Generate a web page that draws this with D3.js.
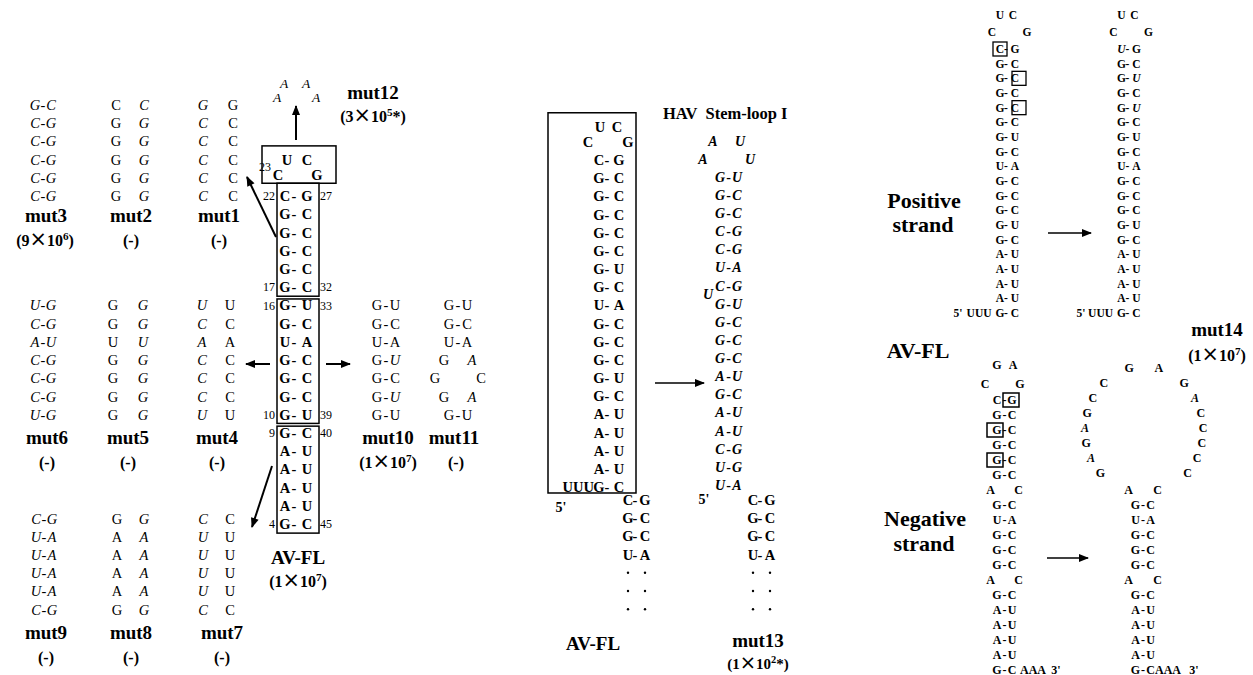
<!DOCTYPE html>
<html>
<head>
<meta charset="utf-8">
<script src="https://cdn.jsdelivr.net/npm/d3@7"></script>
<style>
  body { margin: 0; background: #fff; }
  text { font-family: "Liberation Serif", "Times New Roman", serif; fill: #000; }
</style>
</head>
<body>
<div id="chart-area"></div>
<script>
// Sequences: one string per base pair, "L-R" paired, "L R" unpaired, "L  R" wide.
// Lowercase letter = mutated base (drawn in italics).
var avfl    = ["C-G","G-C","G-C","G-C","G-C","G-C","G-U","G-C","U-A","G-C","G-C","G-C","G-U","G-C","A-U","A-U","A-U","A-U","G-C"];
var avflNum = [[0,"22","27"],[5,"17","32"],[6,"16","33"],[12,"10","39"],[13,"9","40"],[18,"4","45"]];
var loopAV  = ["U C","C  G"];
var loop12  = ["a a","a  a"];

var mut3  = ["g-c","c-g","c-g","c-g","c-g","c-g"];
var mut2  = ["C c","G g","G g","G g","G g","G g"];
var mut1  = ["g G","c C","c C","c C","c C","c C"];
var mut6  = ["u-g","c-g","a-u","c-g","c-g","c-g","u-g"];
var mut5  = ["G g","G g","U u","G g","G g","G g","G g"];
var mut4  = ["u U","c C","a A","c C","c C","c C","u U"];
var mut10 = ["G-U","G-C","U-A","G-u","G-C","G-u","G-U"];
var mut11 = ["G-U","G-C","U-A","G a","G  C","G a","G-U"];
var mut9  = ["c-g","u-a","u-a","u-a","u-a","c-g"];
var mut8  = ["G g","A a","A a","A a","A a","G g"];
var mut7  = ["c C","u U","u U","u U","u U","c C"];

var tail   = ["C-G","G-C","G-C","U-A"];
var mut13  = ["g-u","g-c","g-c","c-g","c-g","u-a","c-g","g-u","g-c","g-c","g-c","a-u","g-c","a-u","a-u","c-g","u-g","u-a"];
var loop13 = ["a u","a  u"];

var posMut14 = ["u-G","G-C","G-u","G-C","G-u","G-C","G-U","G-C","U-A","G-C","G-C","G-C","G-U","G-C","A-U","A-U","A-U","A-U","G-C"];
var posBoxes = [[0,"L"],[2,"R"],[4,"R"]];
var negAV    = ["C-G","G-C","G-C","G-C","G-C","G-C","A C","G-C","U-A","G-C","G-C","G-C","A C","G-C","A-U","A-U","A-U","A-U","G-C"];
var negBoxes = [[0,"R"],[2,"L"],[4,"L"]];
var loopNeg  = ["G A","C  G"];
var ringLeft  = ["G","C","C","G","a","G","a","G"];
var ringRight = ["A","G","a","C","C","C","C","C"];

var svg = d3.select("#chart-area").append("svg")
    .attr("width", 1253).attr("height", 675);

svg.append("defs").append("marker")
    .attr("id", "head").attr("viewBox", "0 0 10 10")
    .attr("refX", 9).attr("refY", 5)
    .attr("markerWidth", 12).attr("markerHeight", 10)
    .attr("markerUnits", "userSpaceOnUse").attr("orient", "auto")
    .append("path").attr("d", "M0,1 L10,5 L0,9 Z");

// single letter
function base(g, ch, x, y, size, bold) {
    var it = /[a-z]/.test(ch);
    g.append("text")
        .attr("x", x).attr("y", y).attr("dy", "0.35em")
        .attr("text-anchor", "middle")
        .attr("font-size", size)
        .attr("font-weight", bold ? "bold" : "normal")
        .attr("font-style", it ? "italic" : "normal")
        .text(ch.toUpperCase());
}

// column of pairs
function stem(g, pairs, o) {
    pairs.forEach(function(p, i) {
        var y = o.y(o.start + i);
        var l = p[0], r = p[p.length - 1], mid = p.slice(1, -1);
        var h = mid === "-" ? o.dx : (mid === " " ? o.gap : o.wide);
        base(g, l, o.cx - h, y, o.size, o.bold);
        base(g, r, o.cx + h, y, o.size, o.bold);
        if (mid === "-") base(g, "-", o.cx + (o.dash || 0), y, o.size, o.bold);
    });
}

function label(g, txt, x, y, size) {
    g.append("text").attr("x", x).attr("y", y).attr("dy", "0.35em")
        .attr("text-anchor", "middle").attr("font-size", size)
        .attr("font-weight", "bold").text(txt);
}

// "(1×10^7)" style titre
function titre(g, mant, exp, tail, x, y, size) {
    var t = g.append("text").attr("x", x).attr("y", y).attr("dy", "0.35em")
        .attr("text-anchor", "middle").attr("font-size", size).attr("font-weight", "bold");
    t.append("tspan").text("(" + mant);
    t.append("tspan").attr("font-family", "DejaVu Sans").attr("font-weight", "normal")
        .attr("font-size", size * 1.3).text("×");
    t.append("tspan").text("10");
    t.append("tspan").attr("dy", -6).attr("font-size", size * 0.7).text(exp);
    t.append("tspan").attr("dy", 6).text(tail + ")");
}

function arrow(g, x1, y1, x2, y2, w) {
    g.append("line").attr("x1", x1).attr("y1", y1).attr("x2", x2).attr("y2", y2)
        .attr("stroke", "#000").attr("stroke-width", w || 2)
        .attr("marker-end", "url(#head)");
}

function box(g, x, y, w, h, sw) {
    g.append("rect").attr("x", x).attr("y", y).attr("width", w).attr("height", h)
        .attr("fill", "none").attr("stroke", "#000").attr("stroke-width", sw || 1.5);
}

// ================= LEFT PANEL =================
var left = svg.append("g");
var rowY = d3.scaleLinear().domain([0, 18]).range([196, 524]);
var reg = {size: 14.5, bold: false, dx: 8, gap: 14, wide: 22, y: rowY};

stem(left, mut3, Object.assign({}, reg, {cx: 43, start: -5}));
stem(left, mut2, Object.assign({}, reg, {cx: 130, start: -5}));
stem(left, mut1, Object.assign({}, reg, {cx: 218, start: -5, gap: 15}));
stem(left, mut6, Object.assign({}, reg, {cx: 43, start: 6}));
stem(left, mut5, Object.assign({}, reg, {cx: 128, start: 6, gap: 15}));
stem(left, mut4, Object.assign({}, reg, {cx: 216, start: 6}));
stem(left, mut10, Object.assign({}, reg, {cx: 386, start: 6, dx: 9}));
stem(left, mut11, Object.assign({}, reg, {cx: 458, start: 6, dx: 9, gap: 14, wide: 23}));
stem(left, mut9, Object.assign({}, reg, {cx: 44, start: 17.7}));
stem(left, mut8, Object.assign({}, reg, {cx: 130.5, start: 17.7, gap: 13.5}));
stem(left, mut7, Object.assign({}, reg, {cx: 216.5, start: 17.7, gap: 13.5}));

// AV-FL stem
stem(left, avfl, {cx: 296, dx: 11, dash: -2, y: rowY, start: 0, size: 14.5, bold: true});
avflNum.forEach(function(n) {
    var y = rowY(n[0]);
    left.append("text").attr("x", 275).attr("y", y).attr("dy", "0.35em")
        .attr("text-anchor", "end").attr("font-size", 12).text(n[1]);
    left.append("text").attr("x", 320).attr("y", y).attr("dy", "0.35em")
        .attr("text-anchor", "start").attr("font-size", 12).text(n[2]);
});
// loop
stem(left, [loopAV[0]], {cx: 297, gap: 10, y: rowY, start: -2, size: 14.5, bold: true});
stem(left, [loopAV[1]], {cx: 297.5, wide: 19.5, y: rowY, start: -1.15, size: 14.5, bold: true});
left.append("text").attr("x", 271).attr("y", rowY(-1.6)).attr("dy", "0.35em")
    .attr("text-anchor", "end").attr("font-size", 12).text("23");
box(left, 262, rowY(-2.75), 74, rowY(-0.7) - rowY(-2.75));
box(left, 277, rowY(-0.7), 42, rowY(5.5) - rowY(-0.7));
box(left, 277, rowY(5.65), 42, rowY(12.48) - rowY(5.65));
box(left, 277, rowY(12.63), 42, rowY(18.5) - rowY(12.63));

// mut12 loop
stem(left, [loop12[0]], {cx: 295, gap: 11, y: rowY, start: -6.2, size: 13.5, bold: false});
stem(left, [loop12[1]], {cx: 296.5, wide: 19.5, y: rowY, start: -5.4, size: 13.5, bold: false});

// arrows
arrow(left, 296, 140, 296, 106);
arrow(left, 276, 237, 247, 177);
arrow(left, 270, 364, 246, 364);
arrow(left, 326, 364, 350, 364);
arrow(left, 272, 466, 252, 527);

// labels
label(left, "mut12", 373, 92, 19);
titre(left, "3", "5", "*", 373, 116, 16);
label(left, "mut3", 46, 215, 19);
label(left, "mut2", 131, 215, 19);
label(left, "mut1", 219, 215, 19);
titre(left, "9", "6", "", 45, 240, 16);
label(left, "(-)", 131, 240, 16);
label(left, "(-)", 219, 240, 16);
label(left, "mut6", 47, 437, 19);
label(left, "mut5", 128, 437, 19);
label(left, "mut4", 217, 437, 19);
label(left, "mut10", 388, 437, 19);
label(left, "mut11", 454, 437, 19);
label(left, "(-)", 47, 462, 16);
label(left, "(-)", 128, 462, 16);
label(left, "(-)", 217, 462, 16);
titre(left, "1", "7", "", 388, 462, 16);
label(left, "(-)", 456, 462, 16);
label(left, "mut9", 46, 632, 19);
label(left, "mut8", 131, 632, 19);
label(left, "mut7", 222, 632, 19);
label(left, "(-)", 46, 657, 16);
label(left, "(-)", 131, 657, 16);
label(left, "(-)", 222, 657, 16);
label(left, "AV-FL", 298, 557, 19);
titre(left, "1", "7", "", 298, 581, 16);

// ================= MIDDLE PANEL =================
var mid = svg.append("g");
var rowM = d3.scaleLinear().domain([0, 18]).range([160, 487]);
var bold = {size: 14.5, bold: true, y: rowM};

stem(mid, avfl, Object.assign({}, bold, {cx: 609, dx: 10, dash: -2, start: 0}));
stem(mid, [loopAV[0]], Object.assign({}, bold, {cx: 608.5, gap: 8.5, start: -1.82}));
stem(mid, [loopAV[1]], Object.assign({}, bold, {cx: 608, wide: 20, start: -0.99}));
mid.append("text").attr("x", 594).attr("y", rowM(18)).attr("dy", "0.35em")
    .attr("text-anchor", "end").attr("font-size", 14.5).attr("font-weight", "bold").text("UUU");
box(mid, 548, rowM(-2.6), 88, rowM(18.33) - rowM(-2.6));

var rowT = d3.scaleLinear().domain([0, 1]).range([500, 518.2]);
stem(mid, tail, {cx: 636.5, dx: 8.5, dash: -1.5, y: rowT, start: 0, size: 14.5, bold: true});
stem(mid, tail, {cx: 761.5, dx: 8.5, dash: -1.5, y: rowT, start: 0, size: 14.5, bold: true});
[4, 5, 6].forEach(function(k) {
    [628, 645, 753, 770].forEach(function(x) {
        mid.append("circle").attr("cx", x).attr("cy", rowT(k)).attr("r", 1.2).attr("fill", "#000");
    });
});
label(mid, "5'", 561, 507, 14);
label(mid, "5'", 704, 499, 14);

// mut13
var rowH = d3.scaleLinear().domain([0, 17]).range([177, 485]);
stem(mid, mut13, {cx: 728.5, dx: 8.5, y: rowH, start: 0, size: 14, bold: true});
stem(mid, [loop13[0]], {cx: 726.5, gap: 13.5, y: rowH, start: -2, size: 14, bold: true});
stem(mid, [loop13[1]], {cx: 726.5, wide: 23.5, y: rowH, start: -1, size: 14, bold: true});
base(mid, "u", 708, rowH(6.45), 14, true);

mid.append("text").attr("x", 663).attr("y", 113).attr("dy", "0.35em")
    .attr("font-size", 16.5).attr("font-weight", "bold").style("white-space", "pre")
    .text("HAV  Stem-loop I");
arrow(mid, 655, 383, 704, 383, 1.5);
label(mid, "AV-FL", 593, 643, 19);
label(mid, "mut13", 758, 640, 19);
titre(mid, "1", "2", "*", 758, 664, 15);

// ================= RIGHT PANEL =================
var right = svg.append("g");
var rowP = d3.scaleLinear().domain([0, 18]).range([49, 313]);
var small = {size: 11.5, bold: true, y: rowP, start: 0, dx: 7.5, dash: -1.5};

stem(right, avfl, Object.assign({}, small, {cx: 1007.5}));
stem(right, posMut14, Object.assign({}, small, {cx: 1129}));
[1006.5, 1128].forEach(function(cx) {
    stem(right, [loopAV[0]], Object.assign({}, small, {cx: cx, gap: 6.5, start: -2.3}));
    stem(right, [loopAV[1]], Object.assign({}, small, {cx: cx + 3, wide: 17.5, start: -1.15}));
});
posBoxes.forEach(function(b) {
    var x = b[1] === "L" ? 1000 : 1019;
    box(right, x - 7, rowP(b[0]) - 7, 14, 14, 1.3);
});
[[1007.5, 960], [1129, 1083]].forEach(function(c) {
    right.append("text").attr("x", c[0] - 16).attr("y", rowP(18)).attr("dy", "0.35em")
        .attr("text-anchor", "end").attr("font-size", 11.5).attr("font-weight", "bold").text("UUU");
    label(right, "5'", c[1] - 2, rowP(18), 11.5);
});

var rowN = d3.scaleLinear().domain([0, 18]).range([400, 670]);
var smallN = {size: 12, bold: true, y: rowN, start: 0, dx: 7.5, dash: 0, gap: 14};
stem(right, negAV, Object.assign({}, smallN, {cx: 1004.5}));
stem(right, [loopNeg[0]], Object.assign({}, smallN, {cx: 1005, gap: 8, start: -2.33}));
stem(right, [loopNeg[1]], Object.assign({}, smallN, {cx: 1002.5, wide: 17.5, start: -1.07}));
negBoxes.forEach(function(b) {
    var x = b[1] === "L" ? 995 : 1011;
    box(right, x - 8, rowN(b[0]) - 7, 16, 14, 1.5);
});
stem(right, negAV.slice(6), Object.assign({}, smallN, {cx: 1143, start: 6, gap: 14.5}));

// mut14 negative ring
var ring = {cx: 1144, cy: 430, rx: 59, ry: 64};
function ringX(y, side) {
    var t = (y - ring.cy) / ring.ry;
    return ring.cx + side * ring.rx * Math.sqrt(Math.max(0, 1 - t * t));
}
ringLeft.forEach(function(ch, i) {
    var y = rowN(i - 2.13);
    base(right, ch, ringX(y, -1), y, 12, true);
});
ringRight.forEach(function(ch, i) {
    var y = rowN(i - 2.13);
    base(right, ch, ringX(y, 1), y, 12, true);
});

right.append("text").attr("x", 1020).attr("y", rowN(18)).attr("dy", "0.35em")
    .attr("font-size", 12).attr("font-weight", "bold").style("white-space", "pre").text("AAA  3'");
right.append("text").attr("x", 1155).attr("y", rowN(18)).attr("dy", "0.35em")
    .attr("font-size", 12).attr("font-weight", "bold").style("white-space", "pre").text("AAA   3'");

arrow(right, 1048, 233, 1091, 233, 1.5);
arrow(right, 1047, 558, 1088, 558, 1.5);

label(right, "Positive", 924, 200, 22);
label(right, "strand", 923, 224, 22);
label(right, "AV-FL", 918, 350, 22);
label(right, "Negative", 925, 518, 22);
label(right, "strand", 924, 543, 22);
label(right, "mut14", 1217, 329, 19);
titre(right, "1", "7", "", 1217, 355, 16);
</script>
</body>
</html>
